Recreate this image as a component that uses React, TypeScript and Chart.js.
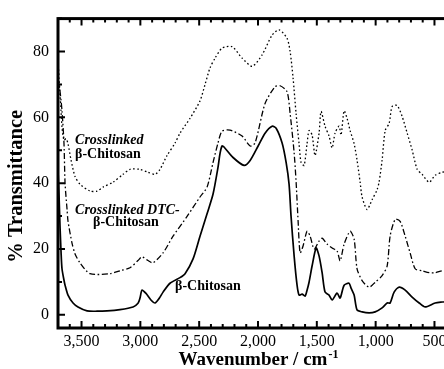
import React, { useEffect, useRef } from 'react';
import { Chart, registerables } from 'chart.js';

Chart.register(...registerables);

// ---- data (wavenumber in cm-1, % transmittance) ----
const chitosanWn = [3700, 3691, 3683, 3674, 3666, 3649, 3640, 3615, 3572, 3530, 3453, 3368, 3283, 3173, 3062, 3020, 3003, 2986, 2952, 2910, 2875, 2840, 2807, 2748, 2663, 2620, 2552, 2493, 2433, 2382, 2340, 2323, 2306, 2289, 2212, 2118, 2067, 1999, 1940, 1880, 1846, 1795, 1761, 1736, 1719, 1693, 1668, 1651, 1625, 1600, 1583, 1566, 1540, 1506, 1481, 1455, 1430, 1396, 1370, 1328, 1302, 1268, 1226, 1209, 1183, 1158, 1115, 1056, 1004, 945, 902, 877, 843, 800, 749, 690, 630, 579, 494, 435, 400];
const chitosanT = [44, 36, 27, 19, 14, 10.5, 9, 6, 3.6, 2.4, 1.2, 1.1, 1.2, 1.6, 2.4, 3.5, 5.1, 7.5, 6.5, 4.5, 3.6, 5, 6.9, 9.6, 11.3, 12.5, 17, 23.9, 30.7, 36.7, 44.8, 49, 51.3, 51, 47.8, 45.4, 46.9, 51.3, 55.2, 57.3, 56.7, 52.2, 46.3, 39.7, 29.9, 17.9, 9, 6, 6.3, 5.7, 7.5, 9.9, 14.9, 20.3, 17.9, 12.8, 6.9, 6, 4.5, 6.6, 5.1, 9, 9.6, 8.1, 6, 1.5, 0.9, 0.6, 0.9, 2.1, 3.6, 3.6, 6.9, 8.4, 7.5, 5.4, 3.6, 2.4, 3.6, 3.9, 4];

const dtcWn = [3700, 3683, 3666, 3649, 3640, 3623, 3615, 3581, 3555, 3513, 3428, 3258, 3173, 3088, 3020, 2986, 2935, 2892, 2807, 2722, 2603, 2493, 2433, 2382, 2340, 2306, 2238, 2135, 2067, 2025, 1940, 1855, 1812, 1753, 1727, 1693, 1676, 1659, 1642, 1617, 1583, 1557, 1523, 1481, 1455, 1413, 1370, 1328, 1302, 1268, 1217, 1183, 1158, 1115, 1056, 1004, 945, 902, 877, 834, 792, 749, 707, 664, 605, 545, 494, 435, 400];
const dtcT = [72, 68, 62, 52, 40, 32, 28.5, 21.8, 18.5, 15.8, 12.5, 12.5, 13.4, 14.3, 16.5, 17.6, 16.5, 15.8, 18.8, 23.9, 29.9, 35.8, 38.8, 46.3, 52.2, 55.8, 56.1, 54.3, 51.3, 52.2, 64.2, 69.3, 69.6, 67.8, 61.2, 49.3, 40.3, 28.4, 18.8, 20.9, 25.4, 23.9, 20, 22.4, 23.3, 21.5, 20.3, 19.4, 16.4, 21.5, 25.4, 23, 14, 10.4, 8.4, 9.9, 11.9, 14.9, 23.9, 29, 28.4, 23.9, 18.8, 14, 13.4, 12.8, 12.8, 13.4, 13.4];

const crossWn = [3700, 3691, 3683, 3674, 3666, 3649, 3632, 3615, 3589, 3555, 3513, 3428, 3368, 3317, 3232, 3147, 3088, 3003, 2935, 2875, 2833, 2773, 2705, 2663, 2578, 2493, 2450, 2408, 2365, 2306, 2221, 2135, 2050, 1965, 1880, 1821, 1753, 1727, 1702, 1676, 1651, 1634, 1608, 1583, 1566, 1540, 1515, 1481, 1464, 1430, 1396, 1370, 1345, 1311, 1294, 1268, 1243, 1217, 1183, 1158, 1132, 1115, 1073, 1030, 988, 971, 945, 919, 885, 860, 817, 775, 732, 690, 647, 605, 545, 494, 435, 400];
const crossT = [77, 72, 67, 62, 57, 53, 53.5, 52, 47, 42, 39.7, 37.6, 37.6, 38.8, 40.3, 42.7, 44.2, 44.2, 43.3, 42.7, 44.2, 48.4, 52.2, 55.2, 59.7, 65, 70, 75, 78, 81, 81.5, 78, 75.5, 79, 85, 86.6, 84, 80, 72, 61, 52, 46.3, 45.4, 52, 56, 54.6, 48.4, 55.2, 61.8, 57.3, 54.3, 50.7, 55.2, 57.3, 54.6, 62, 59.7, 56, 52, 47, 40.3, 35.8, 32, 35, 38, 40.3, 47, 56, 58.2, 63.3, 63.6, 60.3, 55.2, 50.1, 44.2, 42.7, 40.3, 42.4, 43.3, 43.5];

const xTickValues = [3500, 3000, 2500, 2000, 1500, 1000, 500];
const yTickValues = [0, 20, 40, 60, 80];

// curve labels, anchored in data coordinates (wavenumber, % transmittance)
const labelTexts = ['Crosslinked', 'β-Chitosan', 'Crosslinked DTC-', 'β-Chitosan', 'β-Chitosan'];
const labelWn = [3555, 3555, 3555, 3402, 2705];
const labelT = [51.9, 47.8, 30.7, 26.9, 7.5];
const labelItalic = [true, false, true, false, false];

const FONT = "'Liberation Serif', 'Times New Roman', serif";

export default function App() {
  const canvasRef = useRef<HTMLCanvasElement | null>(null);

  useEffect(() => {
    const el = canvasRef.current;
    if (!el) return;
    const pts = (xs: number[], ys: number[]) => xs.map((x, i) => ({ x, y: ys[i] }));

    const framePlugin = {
      id: 'frameTicks',
      afterDraw(chart: any) {
        const { ctx, chartArea: a, scales } = chart;
        const x = scales.x;
        const y = scales.y;
        ctx.save();
        ctx.strokeStyle = '#000';
        ctx.lineWidth = 2;
        ctx.beginPath();
        for (let v = 3600; v >= 400; v -= 100) {
          const px = x.getPixelForValue(v);
          const len = v % 500 === 0 ? 7 : 4;
          ctx.moveTo(px, a.bottom);
          ctx.lineTo(px, a.bottom - len);
          ctx.moveTo(px, a.top);
          ctx.lineTo(px, a.top + len);
        }
        for (let v = 0; v <= 90; v += 10) {
          const py = y.getPixelForValue(v);
          const len = v % 20 === 0 ? 7 : 4;
          ctx.moveTo(a.left, py);
          ctx.lineTo(a.left + len, py);
        }
        ctx.stroke();
        ctx.lineWidth = 3;
        ctx.strokeRect(a.left, a.top, a.right - a.left, a.bottom - a.top);

        // curve labels
        ctx.fillStyle = '#000';
        ctx.textAlign = 'left';
        ctx.textBaseline = 'alphabetic';
        labelTexts.forEach((t, i) => {
          ctx.font = `${labelItalic[i] ? 'italic ' : ''}bold 14px ${FONT}`;
          ctx.fillText(t, x.getPixelForValue(labelWn[i]), y.getPixelForValue(labelT[i]));
        });

        // axis titles
        ctx.font = `bold 19px ${FONT}`;
        const main = 'Wavenumber / cm';
        const sup = '-1';
        const wMain = ctx.measureText(main).width;
        ctx.font = `bold 12px ${FONT}`;
        const wSup = ctx.measureText(sup).width;
        const cx = (a.left + a.right) / 2;
        const startX = cx - (wMain + wSup) / 2;
        const base = a.bottom + 37;
        ctx.font = `bold 19px ${FONT}`;
        ctx.fillText(main, startX, base);
        ctx.font = `bold 12px ${FONT}`;
        ctx.fillText(sup, startX + wMain + 1, base - 7);

        ctx.save();
        ctx.translate(a.left - 41, (a.top + a.bottom) / 2 + 13);
        ctx.rotate(-Math.PI / 2);
        ctx.font = `bold 20.5px ${FONT}`;
        ctx.textAlign = 'center';
        ctx.textBaseline = 'middle';
        ctx.fillText('% Transmittance', 0, 0);
        ctx.restore();
        ctx.restore();
      },
    };

    const chart = new Chart(el, {
      type: 'scatter',
      data: {
        datasets: [
          {
            label: 'Crosslinked β-Chitosan',
            data: pts(crossWn, crossT),
            showLine: true,
            borderColor: '#000',
            borderWidth: 1.3,
            borderDash: [1.6, 2.4],
            pointRadius: 0,
            tension: 0.25,
          },
          {
            label: 'Crosslinked DTC-β-Chitosan',
            data: pts(dtcWn, dtcT),
            showLine: true,
            borderColor: '#000',
            borderWidth: 1.3,
            borderDash: [6, 2.5, 1.6, 2.5],
            pointRadius: 0,
            tension: 0.25,
          },
          {
            label: 'β-Chitosan',
            data: pts(chitosanWn, chitosanT),
            showLine: true,
            borderColor: '#000',
            borderWidth: 1.7,
            pointRadius: 0,
            tension: 0.25,
          },
        ],
      },
      options: {
        animation: false,
        responsive: false,
        layout: { padding: { top: 14, right: 22, left: 0, bottom: 0 } },
        plugins: { legend: { display: false }, tooltip: { enabled: false } },
        scales: {
          x: {
            type: 'linear',
            reverse: true,
            min: 300,
            max: 3700,
            afterBuildTicks: (s: any) => {
              s.ticks = xTickValues.map((v) => ({ value: v }));
            },
            afterFit: (s: any) => {
              s.height = 41;
            },
            grid: { display: false, drawTicks: false },
            border: { display: false },
            ticks: {
              color: '#000',
              font: { family: FONT, size: 16 },
              padding: 4,
              maxRotation: 0,
              autoSkip: false,
              callback: (v: any) => Number(v).toLocaleString('en-US'),
            },
          },
          y: {
            type: 'linear',
            min: -4,
            max: 90,
            afterBuildTicks: (s: any) => {
              s.ticks = yTickValues.map((v) => ({ value: v }));
            },
            afterFit: (s: any) => {
              s.width = 58;
            },
            grid: { display: false, drawTicks: false },
            border: { display: false },
            ticks: {
              color: '#000',
              font: { family: FONT, size: 16 },
              padding: 9,
              autoSkip: false,
            },
          },
        },
      },
      plugins: [framePlugin],
    });
    return () => chart.destroy();
  }, []);

  return (
    <div style={{ position: 'fixed', left: 0, top: 0, width: 444, height: 369, overflow: 'hidden', background: '#fff' }}>
      <canvas ref={canvasRef} width={480} height={369} style={{ display: 'block' }} />
    </div>
  );
}
